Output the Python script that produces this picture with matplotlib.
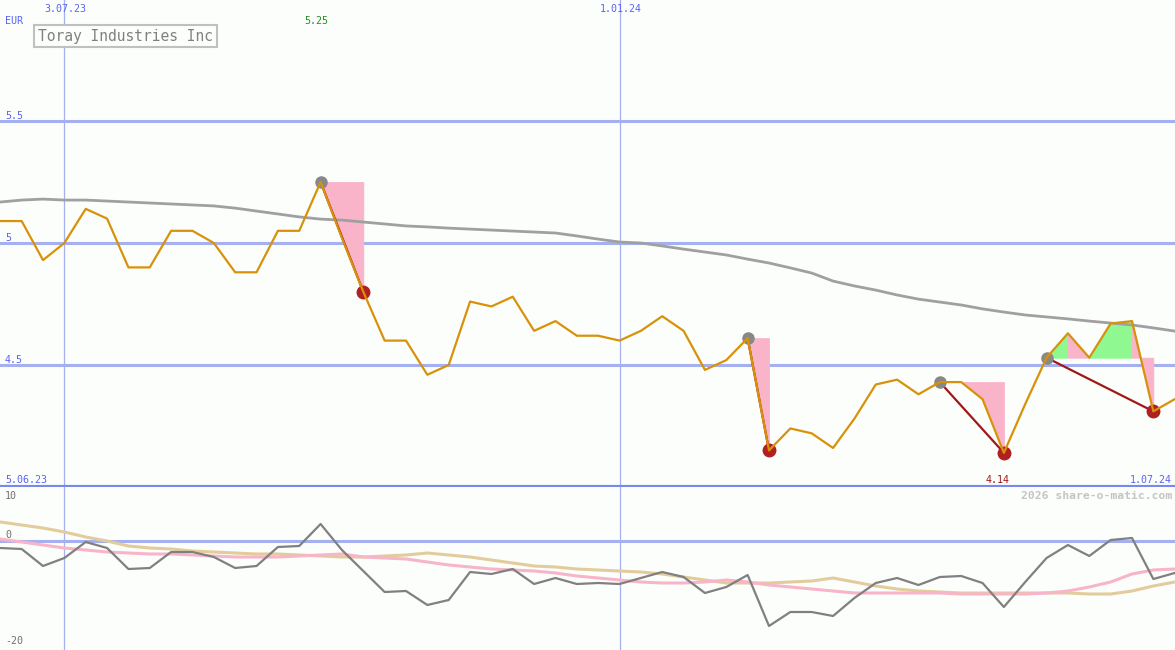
import matplotlib
matplotlib.use('Agg')
import matplotlib.pyplot as plt
import matplotlib.dates as mdates
import pandas as pd

# weekly closes, EUR
dates = pd.date_range('2023-06-12', periods=56, freq='W-MON')
price = [5.09, 5.09, 4.93, 5.00, 5.14, 5.10, 4.90, 4.90, 5.05, 5.05,
         5.00, 4.88, 4.88, 5.05, 5.05, 5.25, 5.02, 4.80, 4.60, 4.60,
         4.46, 4.50, 4.76, 4.74, 4.78, 4.64, 4.68, 4.62, 4.62, 4.60,
         4.64, 4.70, 4.64, 4.48, 4.52, 4.61, 4.15, 4.24, 4.22, 4.16,
         4.28, 4.42, 4.44, 4.38, 4.43, 4.43, 4.36, 4.14, 4.34, 4.53,
         4.63, 4.53, 4.67, 4.68, 4.31, 4.36]
moving_avg = [5.168, 5.176, 5.180, 5.176, 5.176, 5.172, 5.168, 5.164, 5.160, 5.156,
              5.152, 5.143, 5.131, 5.119, 5.107, 5.098, 5.094, 5.086, 5.078, 5.070,
              5.066, 5.061, 5.057, 5.053, 5.049, 5.045, 5.041, 5.029, 5.016, 5.004,
              5.000, 4.988, 4.975, 4.963, 4.951, 4.934, 4.918, 4.898, 4.877, 4.844,
              4.824, 4.807, 4.787, 4.770, 4.758, 4.746, 4.730, 4.717, 4.705, 4.697,
              4.689, 4.680, 4.672, 4.664, 4.652, 4.639]

# lower indicator panel
momentum = [-1.4, -1.6, -5.0, -3.4, -0.2, -1.4, -5.6, -5.4, -2.2, -2.2,
            -3.2, -5.4, -5.0, -1.2, -1.0, 3.4, -1.8, -6.0, -10.2, -10.0,
            -12.8, -11.8, -6.2, -6.6, -5.6, -8.6, -7.4, -8.6, -8.4, -8.6,
            -7.4, -6.2, -7.2, -10.4, -9.2, -6.8, -17.0, -14.2, -14.2, -15.0,
            -11.4, -8.4, -7.4, -8.8, -7.2, -7.0, -8.4, -13.2, -8.2, -3.4,
            -0.8, -3.0, 0.2, 0.6, -7.6, -6.4]
slow_line = [3.8, 3.2, 2.6, 1.8, 0.8, 0.0, -1.0, -1.4, -1.6, -2.0,
             -2.2, -2.4, -2.6, -2.6, -2.8, -3.0, -3.2, -3.2, -3.0, -2.8,
             -2.4, -2.8, -3.2, -3.8, -4.4, -5.0, -5.2, -5.6, -5.8, -6.0,
             -6.2, -6.6, -7.2, -7.8, -8.4, -8.4, -8.4, -8.2, -8.0, -7.4,
             -8.2, -9.0, -9.6, -10.0, -10.2, -10.4, -10.4, -10.4, -10.4, -10.4,
             -10.4, -10.6, -10.6, -10.0, -9.0, -8.2]
fast_line = [0.4, -0.2, -0.8, -1.4, -1.8, -2.2, -2.4, -2.6, -2.6, -2.8,
             -3.0, -3.2, -3.2, -3.2, -3.0, -2.8, -2.6, -3.2, -3.4, -3.6,
             -4.2, -4.8, -5.2, -5.6, -5.8, -6.0, -6.4, -7.0, -7.4, -7.8,
             -8.2, -8.4, -8.4, -8.2, -7.8, -8.2, -8.8, -9.2, -9.6, -10.0,
             -10.4, -10.4, -10.4, -10.4, -10.4, -10.6, -10.6, -10.6, -10.6, -10.4,
             -10.0, -9.2, -8.2, -6.6, -5.8, -5.6]

# signal start / end indices
sig_start = [15, 35, 44, 49]
sig_end = [17, 36, 47, 54]

x = mdates.date2num(dates.to_pydatetime())
grid_dates = mdates.date2num(pd.to_datetime(['2023-07-03', '2024-01-01']).to_pydatetime())
xmin = x[0] - 0.1
xmax = xmin + 385.2

BG = '#fcfefc'
GRID = '#a4b0f0'
BLUE = '#5864f0'
mono = 'DejaVu Sans Mono'

fig = plt.figure(figsize=(11.75, 6.5), dpi=100, facecolor=BG)
ax = fig.add_axes([0, 163 / 650, 1, 487 / 650])
ax2 = fig.add_axes([0, 0, 1, 163 / 650])

for a in (ax, ax2):
    a.set_facecolor(BG)
    a.set_xlim(xmin, xmax)
    a.set_xticks([])
    a.set_yticks([])
    for s in a.spines.values():
        s.set_visible(False)
    for g in grid_dates:
        a.axvline(g, color=GRID, lw=0.9, zorder=0)

ax.set_ylim(4.0, 5.996)
for lvl in (4.5, 5.0, 5.5):
    ax.axhline(lvl, color=GRID, lw=2.2, zorder=0)
ax.axhline(4.0, color='#7888ec', lw=3, zorder=6, clip_on=False)

# signal fills: green on rising legs, pink on falling legs
for s, e in zip(sig_start, sig_end):
    level = price[s]
    for k in range(s, e):
        c = '#90f890' if price[k + 1] > price[k] else '#f9b4c9'
        ax.fill_between(x[k:k + 2], price[k:k + 2], level, facecolor=c, edgecolor=c,
                        lw=0.6, zorder=1)

ax.plot(x, moving_avg, color='#a0a0a0', lw=2, zorder=2)
for s, e in zip(sig_start, sig_end):
    ax.plot([x[s], x[e]], [price[s], price[e]], color='#a01818', lw=1.6, zorder=3)
    ax.plot(x[s], price[s], 'o', color='#888888', ms=8, zorder=4)
    ax.plot(x[e], price[e], 'o', color='#b02020', ms=9, zorder=4)
ax.plot(x, price, color='#d8920a', lw=1.6, zorder=5)

# lower panel
ax2.set_ylim(-21.8, 10.8)
ax2.axhline(0, color=GRID, lw=2.2, zorder=0)
ax2.plot(x, slow_line, color='#e2cc9c', lw=2.2, zorder=2)
ax2.plot(x, fast_line, color='#f8b4c8', lw=2.2, zorder=3)
ax2.plot(x, momentum, color='#808080', lw=1.6, zorder=4)

# labels
px = lambda v: v / 1175
py = lambda v: 1 - v / 650
fig.text(px(65), py(9), '3.07.23', color=BLUE, fontsize=7.2, family=mono, ha='center', va='center')
fig.text(px(621), py(9), '1.01.24', color=BLUE, fontsize=7.2, family=mono, ha='center', va='center')
fig.text(px(5), py(21), 'EUR', color=BLUE, fontsize=7.2, family=mono, ha='left', va='center')
fig.text(px(316), py(21), '5.25', color='#209020', fontsize=7.2, family=mono, ha='center', va='center')
fig.text(px(5), py(116), '5.5', color=BLUE, fontsize=7.2, family=mono, ha='left', va='center')
fig.text(px(5), py(238), '5', color=BLUE, fontsize=7.2, family=mono, ha='left', va='center')
fig.text(px(5), py(360), '4.5', color=BLUE, fontsize=7.2, family=mono, ha='left', va='center')
fig.text(px(5), py(480), '5.06.23', color=BLUE, fontsize=7.2, family=mono, ha='left', va='center')
fig.text(px(998), py(480), '4.14', color='#a01818', fontsize=7.2, family=mono, ha='center', va='center')
fig.text(px(1172), py(480), '1.07.24', color=BLUE, fontsize=7.2, family=mono, ha='right', va='center')
fig.text(px(1172), py(496), '2026 share-o-matic.com', color='#c4c4c4', fontsize=8.2,
         family=mono, weight='bold', ha='right', va='center')
fig.text(px(5), py(496), '10', color='#707070', fontsize=7.2, family=mono, ha='left', va='center')
fig.text(px(5), py(535), '0', color='#707070', fontsize=7.2, family=mono, ha='left', va='center')
fig.text(px(5), py(641), '-20', color='#707070', fontsize=7.2, family=mono, ha='left', va='center')
fig.text(px(38), py(36), 'Toray Industries Inc', color='#808080', fontsize=10.5, family=mono,
         ha='left', va='center',
         bbox=dict(boxstyle='square,pad=0.25', fc='#fcfefc', ec='#c0c0c0', lw=1.5))

fig.savefig('out.png', dpi=100, facecolor=BG)
